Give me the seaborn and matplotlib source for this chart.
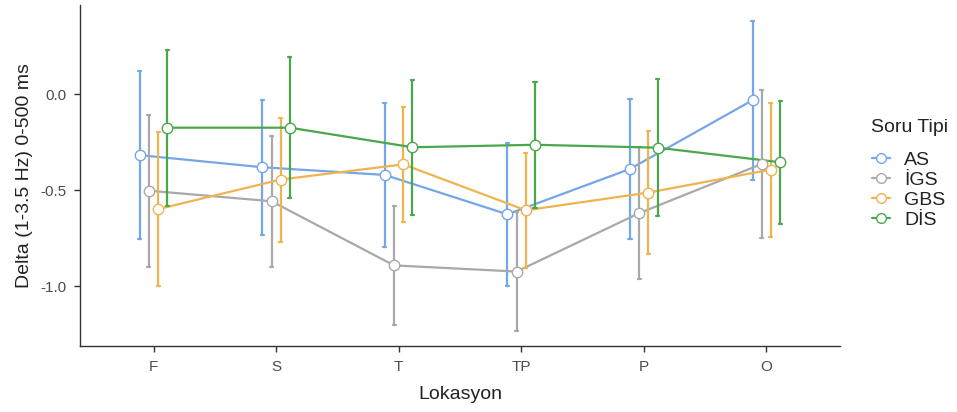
import numpy as np
import pandas as pd
import matplotlib
matplotlib.use("Agg")
import matplotlib.pyplot as plt
from matplotlib.lines import Line2D
import seaborn as sns

# Lokasyon categories and question types
locations = ["F", "S", "T", "TP", "P", "O"]
types = ["AS", "İGS", "GBS", "DİS"]

# Mean delta power per location
as_mean = [-0.317, -0.380, -0.420, -0.625, -0.389, -0.031]
igs_mean = [-0.502, -0.557, -0.891, -0.923, -0.619, -0.363]
gbs_mean = [-0.598, -0.444, -0.365, -0.604, -0.512, -0.392]
dis_mean = [-0.174, -0.174, -0.276, -0.263, -0.278, -0.354]

# Half-width of the error bars
as_err = [0.436, 0.352, 0.373, 0.372, 0.363, 0.414]
igs_err = [0.395, 0.340, 0.308, 0.309, 0.344, 0.385]
gbs_err = [0.402, 0.323, 0.299, 0.298, 0.320, 0.349]
dis_err = [0.406, 0.368, 0.350, 0.327, 0.358, 0.321]

colors = ["#75a6ea", "#a9a9a9", "#efb44f", "#4aa84c"]

means = {"AS": as_mean, "İGS": igs_mean, "GBS": gbs_mean, "DİS": dis_mean}
errs = {"AS": as_err, "İGS": igs_err, "GBS": gbs_err, "DİS": dis_err}

# Long table: lower bound, mean and upper bound for each cell, so that the
# median gives the mean and the full percentile interval gives the bar.
rows = []
for t in types:
    for loc, m, e in zip(locations, means[t], errs[t]):
        for v in (m - e, m, m + e):
            rows.append({"Lokasyon": loc, "Soru Tipi": t, "value": v})
df = pd.DataFrame(rows)

sns.set_style("ticks")
plt.rcParams["font.family"] = ["Liberation Sans", "DejaVu Sans"]

fig = plt.figure(figsize=(9.57, 4.12), dpi=100)
ax = fig.add_axes([0.0836, 0.160, 0.794, 0.828])

palette = dict(zip(types, colors))
dodge = 0.225

# Lines with error bars
sns.pointplot(
    data=df, x="Lokasyon", y="value", hue="Soru Tipi",
    order=locations, hue_order=types, palette=palette,
    estimator="median", errorbar=("pi", 100), dodge=dodge,
    markers="", linestyles="-", capsize=0.025,
    err_kws={"linewidth": 1.6}, linewidth=1.6,
    legend=False, ax=ax,
)
# Open circle markers on top
sns.pointplot(
    data=df, x="Lokasyon", y="value", hue="Soru Tipi",
    order=locations, hue_order=types, palette=palette,
    estimator="median", errorbar=None, dodge=dodge,
    markers="o", linestyles="none",
    markerfacecolor="white", markersize=7.5, markeredgewidth=1.0,
    legend=False, ax=ax,
)

ax.set_xlim(-0.6, 5.6)
ax.set_ylim(-1.311, 0.465)
ax.set_yticks([0.0, -0.5, -1.0])
ax.set_yticklabels(["0.0", "-0.5", "-1.0"])

for side in ("top", "right"):
    ax.spines[side].set_visible(False)
for side in ("left", "bottom"):
    ax.spines[side].set_color("#333333")
    ax.spines[side].set_linewidth(1.0)
ax.tick_params(axis="both", colors="#333333", length=4, width=1.0,
               labelsize=11, labelcolor="#4d4d4d", pad=6)

ax.set_xlabel("Lokasyon", fontsize=14, color="#222222", labelpad=9)
ax.set_ylabel("Delta (1-3.5 Hz) 0-500 ms", fontsize=14, color="#222222",
              labelpad=5)

# Legend: title as its own text, entries below it
fig.text(871 / 957, 1 - 128 / 412, "Soru Tipi", fontsize=14,
         color="#222222", ha="left", va="center")
handles = [
    Line2D([0], [0], color=c, linewidth=1.6, marker="o", markersize=7,
           markerfacecolor="white", markeredgewidth=1.0)
    for c in colors
]
leg = fig.legend(
    handles, types, loc="center left",
    bbox_to_anchor=(872 / 957, 1 - 190 / 412), frameon=False, fontsize=14,
    handlelength=0.9, handletextpad=0.75, labelspacing=0.12,
    borderpad=0, borderaxespad=0,
)
for txt in leg.get_texts():
    txt.set_color("#222222")

fig.savefig("out.png", dpi=100)
